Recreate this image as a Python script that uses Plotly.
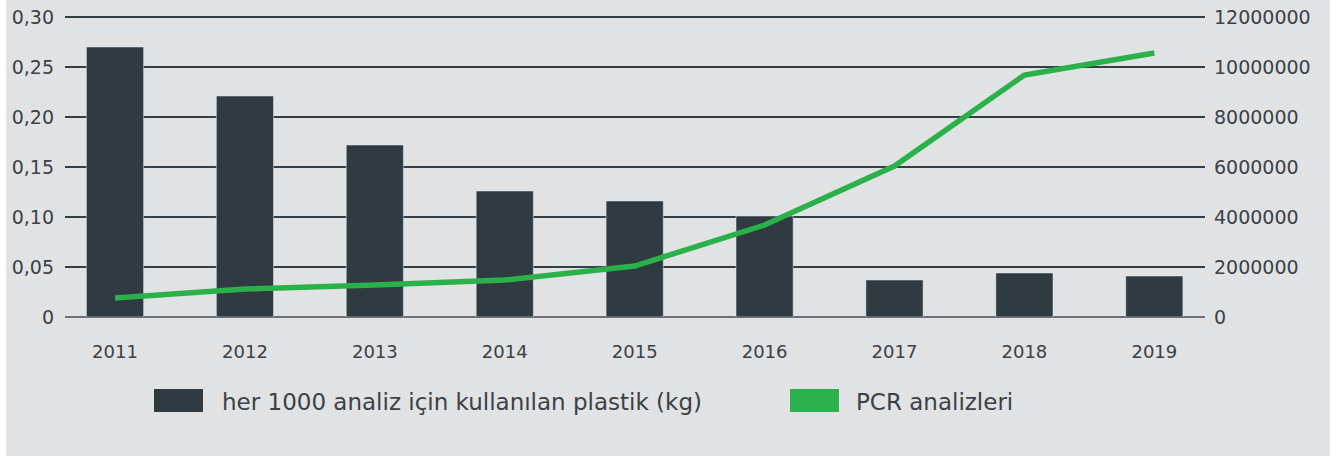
import plotly.graph_objects as go

years = ["2011", "2012", "2013", "2014", "2015", "2016", "2017", "2018", "2019"]
plastic_kg = [0.27, 0.221, 0.172, 0.126, 0.116, 0.101, 0.037, 0.044, 0.041]
pcr_tests = [760000, 1120000, 1280000, 1480000, 2040000, 3680000, 6040000, 9680000, 10560000]

left_tickvals = [0, 0.05, 0.10, 0.15, 0.20, 0.25, 0.30]
left_ticktext = ["0", "0,05", "0,10", "0,15", "0,20", "0,25", "0,30"]
right_tickvals = [0, 2000000, 4000000, 6000000, 8000000, 10000000, 12000000]
right_ticktext = ["0", "2000000", "4000000", "6000000", "8000000", "10000000", "12000000"]

legend_bar = "her 1000 analiz için kullanılan plastik (kg)"
legend_line = "PCR analizleri"

BAR = "#2f3a41"
GREEN = "#2bb14a"
BG = "#e1e2e4"
TXT = "#3a4147"

W, H = 1343, 456
L, R, T, B = 65, 138, 15, 139
PW = W - L - R
PH = H - T - B  # 302 px -> 0.302 so that 0.30 sits 2px inside the top edge

def px(x):
    return (x - L) / PW

def py(y):
    return (H - B - y) / PH

fig = go.Figure()
fig.add_trace(go.Bar(x=years, y=plastic_kg, marker_color=BAR, width=0.44,
                     name=legend_bar, showlegend=False, yaxis="y"))
fig.add_trace(go.Scatter(x=years, y=pcr_tests, mode="lines",
                         line=dict(color=GREEN, width=5.5), name=legend_line,
                         showlegend=False, yaxis="y2"))

shapes = [
    dict(type="rect", xref="paper", yref="paper", x0=px(6), x1=px(1330), y0=py(456), y1=py(0),
         fillcolor=BG, line_width=0, layer="below"),
    dict(type="rect", xref="paper", yref="paper", x0=px(154), x1=px(203), y0=py(412), y1=py(389),
         fillcolor=BAR, line_width=0),
    dict(type="rect", xref="paper", yref="paper", x0=px(790), x1=px(839), y0=py(412), y1=py(389),
         fillcolor=GREEN, line_width=0),
]
LEG_FONT = dict(family="DejaVu Sans", size=23, color=TXT)
annotations = [
    dict(xref="paper", yref="paper", x=px(220), y=py(402), text=legend_bar, showarrow=False,
         xanchor="left", yanchor="middle", font=LEG_FONT),
    dict(xref="paper", yref="paper", x=px(854), y=py(402), text=legend_line, showarrow=False,
         xanchor="left", yanchor="middle", font=LEG_FONT),
]

XTICK_FONT = dict(family="DejaVu Sans", size=18, color=TXT)
YTICK_FONT = dict(family="DejaVu Sans", size=19, color=TXT)

fig.update_layout(
    width=W, height=H,
    margin=dict(l=L, r=R, t=T, b=B, pad=0, autoexpand=False),
    paper_bgcolor="white",
    plot_bgcolor="rgba(0,0,0,0)",
    font=dict(family="DejaVu Sans", size=18, color=TXT),
    showlegend=False,
    shapes=shapes,
    annotations=annotations,
    xaxis=dict(type="category", range=[-0.385, 8.39], showgrid=False, showline=False,
               automargin=False, ticks="", ticklabelstandoff=22, tickfont=XTICK_FONT),
    yaxis=dict(range=[0, 0.302], tickvals=left_tickvals, ticktext=left_ticktext,
               showgrid=True, gridcolor="#353e45", gridwidth=1.5,
               zeroline=True, zerolinecolor="#6a7076", zerolinewidth=2,
               automargin=False, showline=False, ticks="", ticklabelstandoff=10,
               tickfont=YTICK_FONT),
    yaxis2=dict(range=[0, 12080000], overlaying="y", side="right",
                tickvals=right_tickvals, ticktext=right_ticktext,
                showgrid=False, zeroline=False, showline=False, ticks="",
                automargin=False, ticklabelstandoff=8, tickfont=YTICK_FONT),
)

fig.write_html(
    "out.html",
    config={"displayModeBar": False},
    post_script="document.body.style.margin='0px';document.body.style.overflow='hidden';",
)
